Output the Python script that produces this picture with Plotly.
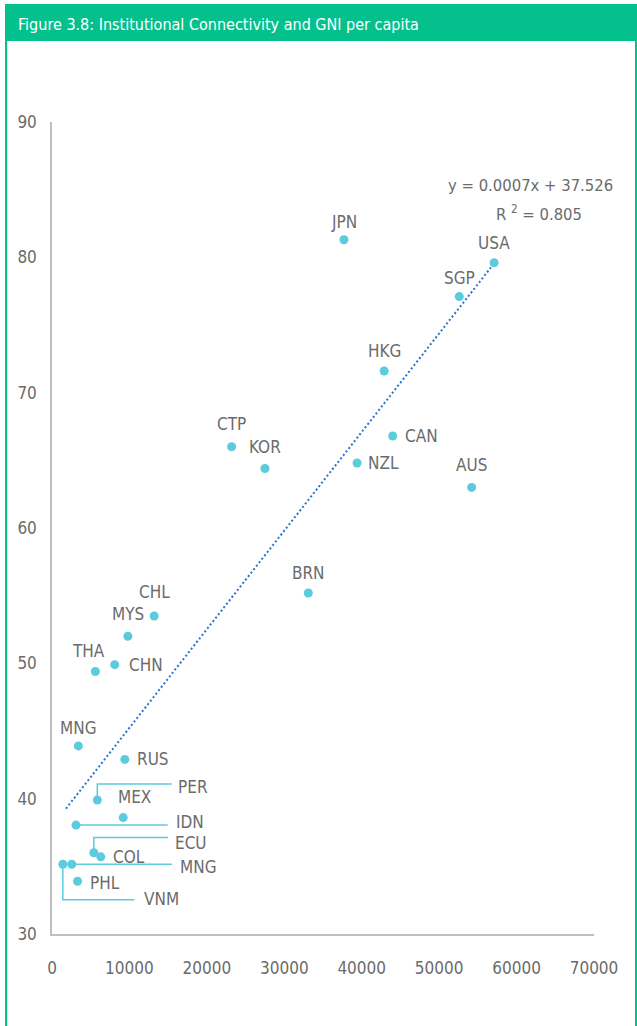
import numpy as np
import plotly.graph_objects as go

# ---------------- data ----------------
codes = ["JPN", "USA", "SGP", "HKG", "CAN", "NZL", "AUS", "CTP", "KOR", "BRN",
         "CHL", "MYS", "CHN", "THA", "MNG", "RUS", "PER", "MEX", "IDN", "ECU",
         "COL", "MNG", "VNM", "PHL"]
gni_per_capita = [37700, 57100, 52600, 42900, 44000, 39400, 54200, 23200, 27500, 33100,
                  13200, 9800, 8100, 5600, 3400, 9400, 5850, 9200, 3100, 5400,
                  6300, 2550, 1400, 3300]
connectivity = [81.3, 79.6, 77.1, 71.6, 66.8, 64.8, 63.0, 66.0, 64.4, 55.2,
                53.5, 52.0, 49.9, 49.4, 43.9, 42.9, 39.9, 38.6, 38.05, 36.0,
                35.7, 35.15, 35.15, 33.9]
x_ticks = [0, 10000, 20000, 30000, 40000, 50000, 60000, 70000]
y_ticks = [30, 40, 50, 60, 70, 80, 90]
equation_text = "y = 0.0007x + 37.526"
r2_text = "R <sup>2</sup> = 0.805"
title_text = "Figure 3.8: Institutional Connectivity and GNI per capita"

# ---------------- label placement (pixel offsets, y up) ----------------
label_dx = [0, 0, 0, 0, 10, 9, 0, 0, 0, 0,
            0, 0, 12, -7, 0, 10, 79, 11, 98, 79,
            10, 106, 79, 10]
label_dy = [18, 20, 19, 20, 0, 0, 22, 23, 21, 20,
            24, 22, 0, 20, 18, 0, 13, 21, 3.5, 9.5,
            0, -2.5, -35, -2]
label_anchor = ["center", "center", "center", "center", "left", "left", "center", "center", "center", "center",
                "center", "center", "left", "center", "center", "left", "left", "center", "left", "left",
                "left", "left", "left", "left"]
# leader line paths (pixel units relative to point, y up)
leaders = {16: "M0,0 V16 H74.4", 18: "M0,0 H91.7", 19: "M0,0 V15.4 H74.3",
           21: "M0,0 H100", 22: "M0,0 V-35.4 H71.6"}

# ---------------- styles ----------------
FONT = "DejaVu Sans Condensed, Liberation Sans Narrow, Roboto, sans-serif"
TEXT_COLOR = "#6b6b6b"
MARKER_COLOR = "#5ccbdd"
TREND_COLOR = "#2a72d0"
GREEN = "#03c08d"
AXIS_COLOR = "#bfbfbf"

W, H = 637, 1026
L, R, T, B = 52, 43, 122, 92
pw, ph = W - L - R, H - T - B


def px(xp):
    return (xp - L) / pw


def py(yp):
    return (H - B - yp) / ph


fig = go.Figure()

# trend line (least squares fit of the data)
slope, intercept = np.polyfit(gni_per_capita, connectivity, 1)
xs = np.array([min(gni_per_capita) + 400, max(gni_per_capita) - 400])
fig.add_trace(go.Scatter(
    x=xs, y=slope * xs + intercept, mode="lines",
    line=dict(color=TREND_COLOR, width=2, dash="2px,2.4px"),
    hoverinfo="skip", showlegend=False))

fig.add_trace(go.Scatter(
    x=gni_per_capita, y=connectivity, mode="markers",
    marker=dict(color=MARKER_COLOR, size=9, line=dict(width=0)),
    text=codes, showlegend=False))

shapes = []
for i, path in leaders.items():
    shapes.append(dict(type="path", xref="x", yref="y",
                       xsizemode="pixel", ysizemode="pixel",
                       xanchor=gni_per_capita[i], yanchor=connectivity[i],
                       path=path, line=dict(color=MARKER_COLOR, width=1.5),
                       layer="below"))

# frame: header band + side borders
shapes.append(dict(type="rect", xref="paper", yref="paper",
                   x0=px(5), x1=px(637), y0=py(41), y1=py(4),
                   fillcolor=GREEN, line=dict(width=0)))
shapes.append(dict(type="rect", xref="paper", yref="paper",
                   x0=px(5), x1=px(7.2), y0=py(1026), y1=py(41),
                   fillcolor=GREEN, line=dict(width=0)))
shapes.append(dict(type="rect", xref="paper", yref="paper",
                   x0=px(635), x1=px(637), y0=py(1026), y1=py(41),
                   fillcolor=GREEN, line=dict(width=0)))

annotations = []
for i, c in enumerate(codes):
    annotations.append(dict(x=gni_per_capita[i], y=connectivity[i], text=c,
                            showarrow=False, xanchor=label_anchor[i], yanchor="middle",
                            xshift=label_dx[i], yshift=label_dy[i],
                            font=dict(family=FONT, size=17, color=TEXT_COLOR)))

annotations.append(dict(xref="paper", yref="paper", x=px(530), y=py(185),
                        text=equation_text, showarrow=False, xanchor="center", yanchor="middle",
                        font=dict(family=FONT, size=16.5, color=TEXT_COLOR)))
annotations.append(dict(xref="paper", yref="paper", x=px(539), y=py(213),
                        text=r2_text, showarrow=False, xanchor="center", yanchor="middle",
                        font=dict(family=FONT, size=16.5, color=TEXT_COLOR)))
annotations.append(dict(xref="paper", yref="paper", x=px(16), y=py(24),
                        text=title_text, showarrow=False, xanchor="left", yanchor="middle",
                        font=dict(family=FONT, size=16, color="white")))

fig.update_layout(
    width=W, height=H,
    margin=dict(l=L, r=R, t=T, b=B, pad=0),
    paper_bgcolor="white", plot_bgcolor="white",
    shapes=shapes, annotations=annotations,
    showlegend=False,
    font=dict(family=FONT, size=17, color=TEXT_COLOR),
)
fig.update_xaxes(range=[0, 70000], tickvals=x_ticks, ticktext=[str(v) for v in x_ticks],
                 showgrid=False, zeroline=False, showline=True, linecolor=AXIS_COLOR, linewidth=1.5,
                 ticks="", ticklabelstandoff=18,
                 tickfont=dict(family=FONT, size=17, color=TEXT_COLOR))
fig.update_yaxes(range=[30, 90], tickvals=y_ticks, ticktext=[str(v) for v in y_ticks],
                 showgrid=False, zeroline=False, showline=True, linecolor=AXIS_COLOR, linewidth=1.5,
                 ticks="", ticklabelstandoff=10,
                 tickfont=dict(family=FONT, size=17, color=TEXT_COLOR))

fig.write_html("out.html", config={"displayModeBar": False},
               post_script="document.body.style.margin='0';document.body.style.overflow='hidden';")
